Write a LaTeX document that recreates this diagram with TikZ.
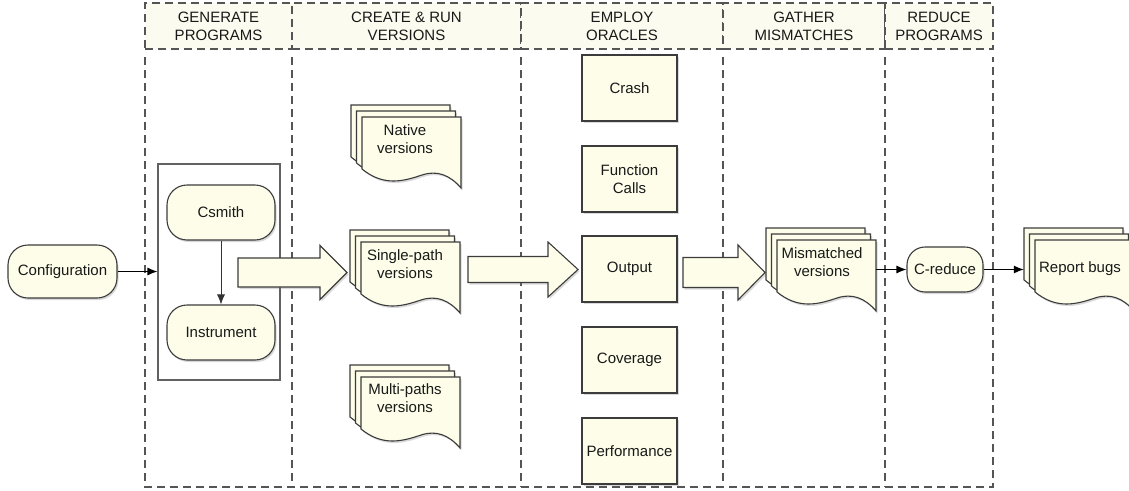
\documentclass[tikz,border=0pt]{standalone}
\usepackage{fontspec}
\setmainfont{Liberation Sans}
\usetikzlibrary{shadows,arrows.meta}

\definecolor{cream}{HTML}{FDFDE9}
\definecolor{hdrfill}{HTML}{FBFBEF}
\definecolor{edge}{HTML}{3C3C3C}
\definecolor{lanec}{HTML}{555555}

\tikzset{
  txt/.style={font=\fontsize{15}{18}\selectfont, text=black!90},
  soft/.style={drop shadow={opacity=0.3, shadow xshift=1.5pt, shadow yshift=-2pt}},
  lane/.style={draw=lanec, line width=1.3pt, dash pattern=on 8pt off 5pt},
  header/.style={lane, fill=hdrfill, minimum height=46pt, inner sep=0pt, align=center, txt},
  pill/.style={draw=edge, fill=cream, line width=1.1pt, rounded corners=20pt, inner sep=0pt, soft, txt},
  oracle/.style={draw=edge, fill=cream, line width=1.1pt, minimum width=95pt, minimum height=66pt,
                 inner sep=0pt, align=center, soft, txt},
  sheet/.style={draw=edge, fill=cream, line width=1.1pt, soft},
  doctext/.style={align=center, inner sep=0pt, txt},
  docframe/.style={inner sep=0pt, minimum width=99pt, minimum height=58pt},
  fatarrow/.style={draw=edge, fill=cream, line width=1.1pt, line join=miter, soft},
  conn/.style={draw=black, line width=1.1pt, -{Latex[length=10pt,width=8pt]}},
  thinconn/.style={draw=black!80, line width=0.8pt, -{Latex[length=10pt,width=8pt]}},
}

% one sheet of a document stack, top-left corner at (#1,#2), wavy lower edge
\newcommand\docsheet[2]{%
  \filldraw[sheet] ({#1},{#2}) -- ({#1+99},{#2}) -- ({#1+99},{#2+71})
    .. controls ({#1+88},{#2+58}) and ({#1+75},{#2+53}) .. ({#1+60},{#2+58})
    .. controls ({#1+42},{#2+64}) and ({#1+22},{#2+70}) .. ({#1},{#2+52}) -- cycle;}
% a stack of three sheets; front sheet top-left at (#1,#2); frames named #3 and #3-back
\newcommand\docstack[3]{%
  \docsheet{#1-11}{#2-12}%
  \docsheet{#1-5.5}{#2-6}%
  \docsheet{#1}{#2}%
  \node[docframe] (#3) at ({#1+49.5},{#2+29}) {};
  \node[docframe] (#3-back) at ({#1-11+49.5},{#2-12+29}) {};}
% block arrow: tail x #1, head base x #2, tip x #3, centre y #4, half body #5, half head #6
\newcommand\blockarrow[6]{%
  \filldraw[fatarrow] (#1,{#4-#5}) -- (#2,{#4-#5}) -- (#2,{#4-#6}) -- (#3,#4)
    -- (#2,{#4+#6}) -- (#2,{#4+#5}) -- (#1,{#4+#5}) -- cycle;}

\begin{document}
\begin{tikzpicture}[x=1pt,y=-1pt]
\useasboundingbox (0,0) rectangle (1129,490);

% stage headers
\node[header, minimum width=147pt] (h1) at (218.5,26) {GENERATE\\PROGRAMS};
\node[header, minimum width=229pt] (h2) at (406.5,26) {CREATE \& RUN\\VERSIONS};
\node[header, minimum width=202pt] (h3) at (622,26) {EMPLOY\\ORACLES};
\node[header, minimum width=162pt] (h4) at (804,26) {GATHER\\MISMATCHES};
\node[header, minimum width=108pt] (h5) at (939,26) {REDUCE\\PROGRAMS};

% swim lanes
\draw[lane] (145,57) -- (145,487) -- (993,487) -- (993,57);
\foreach \lx in {292,521,723,885}
  \draw[lane] (\lx,57) -- (\lx,487);

% program generation
\node[pill, minimum width=109pt, minimum height=53pt] (conf) at (62.5,271.5) {Configuration};
\node[draw=black!62, fill=white, line width=1.1pt, minimum width=122pt, minimum height=216pt] (grp) at (219,272) {};
\node[pill, minimum width=108pt, minimum height=55pt] (csm) at (221,212.5) {Csmith};
\node[pill, minimum width=108pt, minimum height=55pt] (ins) at (221,332.5) {Instrument};

% block arrows between stages
\blockarrow{238}{320}{347}{272.5}{14.5}{27}
\blockarrow{468}{548}{578}{269.5}{13}{27.5}
\blockarrow{683}{738}{765}{272.5}{15}{27.5}

% versions
\docstack{362}{117}{nat}
\node[doctext] (natt) at (405,139) {Native\\versions};
\docstack{361}{242}{sgl}
\node[doctext] (sglt) at (405,264) {Single-path\\versions};
\docstack{361}{377}{mul}
\node[doctext] (mult) at (405,398.5) {Multi-paths\\versions};

% oracles
\node[oracle] (crash) at (629.5,88) {Crash};
\node[oracle] (fcall) at (629.5,179) {Function\\Calls};
\node[oracle] (outp) at (629.5,269) {Output};
\node[oracle] (cov) at (629.5,360) {Coverage};
\node[oracle] (perf) at (629.5,451) {Performance};

% mismatches, reduction, report
\docstack{777}{240}{mis}
\node[doctext] (mist) at (822,262) {Mismatched\\versions};
\node[pill, minimum width=76pt, minimum height=45pt, rounded corners=18pt] (cred) at (945,269.5) {C-reduce};
\docstack{1035}{240}{rep}
\node[doctext] (rept) at (1080,269) {Report bugs};

% connectors
\draw[conn] (conf.east) -- (conf.east -| grp.west);
\draw[thinconn] (csm) -- (ins);
\draw[conn] (cred.west -| mis.east) -- (cred.west);
\draw[conn] (cred.east) -- (cred.east -| rep-back.west);
\end{tikzpicture}
\end{document}
